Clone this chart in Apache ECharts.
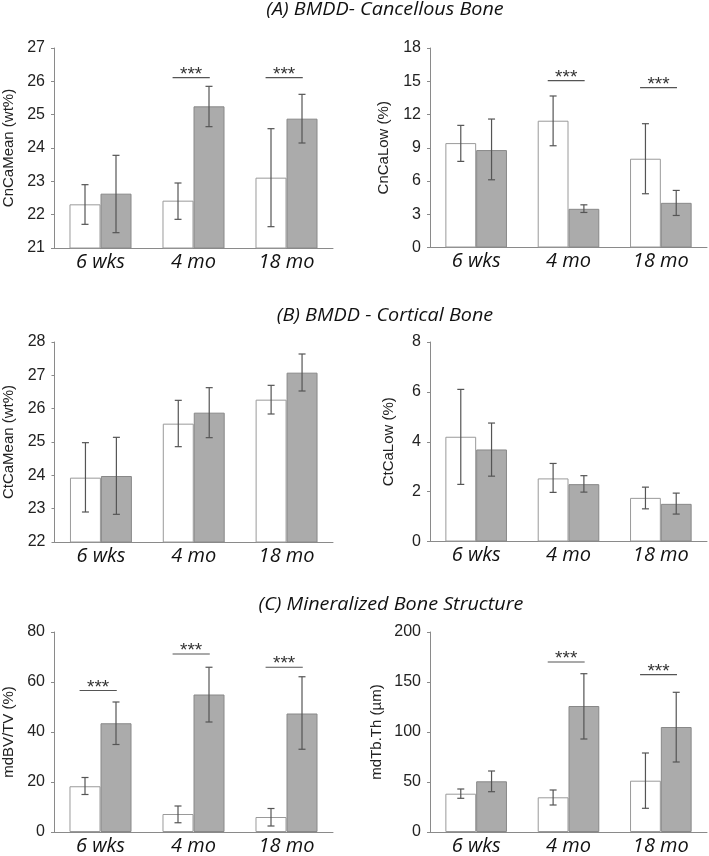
<!DOCTYPE html>
<html><head><meta charset="utf-8">
<script src="https://cdn.jsdelivr.net/npm/echarts@6/dist/echarts.min.js"></script>
<style>html,body{margin:0;padding:0;background:#fff}#c{width:709px;height:856px}</style>
</head><body><div id="c"></div><script>
const categories = ['6 wks', '4 mo', '18 mo'];

// (A) left: CnCaMean (wt%)
const cnCaMeanCtrl = [22.31, 22.42, 23.11];
const cnCaMeanCtrlLo = [21.71, 21.86, 21.64];
const cnCaMeanCtrlHi = [22.90, 22.95, 24.58];
const cnCaMeanTrt = [22.63, 25.25, 24.88];
const cnCaMeanTrtLo = [21.46, 24.64, 24.15];
const cnCaMeanTrtHi = [23.78, 25.85, 25.61];
const cnCaMeanSig = [null, 26.11, 26.11];

// (A) right: CnCaLow (%)
const cnCaLowCtrl = [9.42, 11.44, 8.01];
const cnCaLowCtrlLo = [7.77, 9.18, 4.85];
const cnCaLowCtrlHi = [11.02, 13.67, 11.17];
const cnCaLowTrt = [8.79, 3.49, 4.03];
const cnCaLowTrtLo = [6.11, 3.16, 2.89];
const cnCaLowTrtHi = [11.59, 3.85, 5.15];
const cnCaLowSig = [null, 15.05, 14.42];

// (B) left: CtCaMean (wt%)
const ctCaMeanCtrl = [23.93, 25.55, 26.27];
const ctCaMeanCtrlLo = [22.90, 24.86, 25.84];
const ctCaMeanCtrlHi = [24.98, 26.25, 26.70];
const ctCaMeanTrt = [23.98, 25.88, 27.08];
const ctCaMeanTrtLo = [22.83, 25.13, 26.53];
const ctCaMeanTrtHi = [25.14, 26.63, 27.64];
const ctCaMeanSig = [null, null, null];

// (B) right: CtCaLow (%)
const ctCaLowCtrl = [4.20, 2.53, 1.75];
const ctCaLowCtrlLo = [2.29, 1.97, 1.31];
const ctCaLowCtrlHi = [6.10, 3.13, 2.18];
const ctCaLowTrt = [3.69, 2.30, 1.51];
const ctCaLowTrtLo = [2.62, 1.98, 1.10];
const ctCaLowTrtHi = [4.75, 2.64, 1.94];
const ctCaLowSig = [null, null, null];

// (C) left: mdBV/TV (%)
const mdBVTVCtrl = [18.3, 7.2, 6.0];
const mdBVTVCtrlLo = [15.0, 3.7, 2.4];
const mdBVTVCtrlHi = [21.8, 10.4, 9.4];
const mdBVTVTrt = [43.5, 55.0, 47.4];
const mdBVTVTrtLo = [35.0, 44.0, 33.1];
const mdBVTVTrtHi = [52.0, 65.9, 62.1];
const mdBVTVSig = [56.6, 71.2, 65.9];

// (C) right: mdTb.Th (µm)
const mdTbThCtrl = [38.3, 34.7, 51.3];
const mdTbThCtrlLo = [33.7, 27.0, 23.7];
const mdTbThCtrlHi = [43.0, 42.0, 79.0];
const mdTbThTrt = [50.7, 126.0, 105.0];
const mdTbThTrtLo = [40.3, 93.0, 70.0];
const mdTbThTrtHi = [61.0, 158.3, 139.7];
const mdTbThSig = [null, 170, 157.3];

const panelTitles = ['(A) BMDD- Cancellous Bone', '(B) BMDD - Cortical Bone', '(C) Mineralized Bone Structure'];

const panels = [
  {name:'CnCaMean (wt%)', min:21, max:27, interval:1, ctrl:cnCaMeanCtrl, cLo:cnCaMeanCtrlLo, cHi:cnCaMeanCtrlHi, trt:cnCaMeanTrt, tLo:cnCaMeanTrtLo, tHi:cnCaMeanTrtHi, sig:cnCaMeanSig, grid:{left:53.5, top:48, width:279.5, height:200}, gap:38},
  {name:'CnCaLow (%)', min:0, max:18, interval:3, ctrl:cnCaLowCtrl, cLo:cnCaLowCtrlLo, cHi:cnCaLowCtrlHi, trt:cnCaLowTrt, tLo:cnCaLowTrtLo, tHi:cnCaLowTrtHi, sig:cnCaLowSig, grid:{left:430, top:48, width:277, height:199.5}, gap:39},
  {name:'CtCaMean (wt%)', min:22, max:28, interval:1, ctrl:ctCaMeanCtrl, cLo:ctCaMeanCtrlLo, cHi:ctCaMeanCtrlHi, trt:ctCaMeanTrt, tLo:ctCaMeanTrtLo, tHi:ctCaMeanTrtHi, sig:ctCaMeanSig, grid:{left:53.5, top:342, width:279.5, height:200}, gap:38.5},
  {name:'CtCaLow (%)', min:0, max:8, interval:2, ctrl:ctCaLowCtrl, cLo:ctCaLowCtrlLo, cHi:ctCaLowCtrlHi, trt:ctCaLowTrt, tLo:ctCaLowTrtLo, tHi:ctCaLowTrtHi, sig:ctCaLowSig, grid:{left:430, top:342, width:277, height:199.5}, gap:34},
  {name:'mdBV/TV (%)', min:0, max:80, interval:20, ctrl:mdBVTVCtrl, cLo:mdBVTVCtrlLo, cHi:mdBVTVCtrlHi, trt:mdBVTVTrt, tLo:mdBVTVTrtLo, tHi:mdBVTVTrtHi, sig:mdBVTVSig, grid:{left:53.5, top:632, width:279.5, height:200.5}, gap:38},
  {name:'mdTb.Th (µm)', min:0, max:200, interval:50, ctrl:mdTbThCtrl, cLo:mdTbThCtrlLo, cHi:mdTbThCtrlHi, trt:mdTbThTrt, tLo:mdTbThTrtLo, tHi:mdTbThTrtHi, sig:mdTbThSig, grid:{left:430, top:632, width:277, height:200}, gap:46}
];

const axisColor = '#8a8a8a';
const errColor = '#555';

function errRender(side) {
  return function (params, api) {
    const i = api.value(0);
    const lo = api.coord([i, api.value(1)]);
    const hi = api.coord([i, api.value(2)]);
    const band = api.size([1, 0])[0];
    const x = lo[0] + side * band / 6;
    const cap = 3.5;
    const st = {stroke: errColor, lineWidth: 1.2};
    return {type: 'group', children: [
      {type: 'line', shape: {x1: x, y1: hi[1], x2: x, y2: lo[1]}, style: st},
      {type: 'line', shape: {x1: x - cap, y1: hi[1], x2: x + cap, y2: hi[1]}, style: st},
      {type: 'line', shape: {x1: x - cap, y1: lo[1], x2: x + cap, y2: lo[1]}, style: st}
    ]};
  };
}

function sigRender(params, api) {
  const i = api.value(0);
  const p = api.coord([i, api.value(1)]);
  const band = api.size([1, 0])[0];
  const cx = p[0] - 0.025 * band;
  const hw = 0.2 * band;
  return {type: 'group', children: [
    {type: 'line', shape: {x1: cx - hw, y1: p[1], x2: cx + hw, y2: p[1]}, style: {stroke: '#555', lineWidth: 1.2}},
    {type: 'text', style: {text: '***', x: cx, y: p[1] - 3, textAlign: 'center', textVerticalAlign: 'middle', font: '19px "Liberation Sans", Arial', fill: '#333'}}
  ]};
}

const grid = [], xAxis = [], yAxis = [], series = [];
panels.forEach((pn, k) => {
  grid.push(Object.assign({containLabel: false}, pn.grid));
  xAxis.push({
    type: 'category', gridIndex: k, data: categories,
    axisLine: {show: true, lineStyle: {color: axisColor, width: 1}},
    axisTick: {show: false},
    axisLabel: {color: '#111', fontFamily: 'Open Sans', fontStyle: 'italic', fontSize: 20, margin: 4}
  });
  yAxis.push({
    type: 'value', gridIndex: k, min: pn.min, max: pn.max, interval: pn.interval,
    name: pn.name, nameLocation: 'middle', nameRotate: 90, nameGap: pn.gap,
    nameTextStyle: {color: '#222', fontFamily: 'Liberation Sans', fontSize: 15},
    axisLine: {show: true, lineStyle: {color: axisColor, width: 1}},
    axisTick: {show: true, length: 3, lineStyle: {color: axisColor}},
    axisLabel: {color: '#222', fontFamily: 'Liberation Sans', fontSize: 16, margin: 9},
    splitLine: {show: false}
  });
  series.push({
    type: 'bar', xAxisIndex: k, yAxisIndex: k, data: pn.ctrl,
    barGap: '0%', barCategoryGap: '33.3%',
    itemStyle: {color: '#ffffff', borderColor: '#9a9a9a', borderWidth: 1}
  });
  series.push({
    type: 'bar', xAxisIndex: k, yAxisIndex: k, data: pn.trt,
    barGap: '0%', barCategoryGap: '33.3%',
    itemStyle: {color: '#ababab', borderColor: '#888888', borderWidth: 1}
  });
  series.push({
    type: 'custom', xAxisIndex: k, yAxisIndex: k, renderItem: errRender(-1),
    encode: {x: 0, y: [1, 2]}, z: 5,
    data: categories.map((c, i) => [i, pn.cLo[i], pn.cHi[i]])
  });
  series.push({
    type: 'custom', xAxisIndex: k, yAxisIndex: k, renderItem: errRender(1),
    encode: {x: 0, y: [1, 2]}, z: 5,
    data: categories.map((c, i) => [i, pn.tLo[i], pn.tHi[i]])
  });
  const sigData = pn.sig.map((v, i) => v == null ? null : [i, v]).filter(Boolean);
  if (sigData.length) {
    series.push({
      type: 'custom', xAxisIndex: k, yAxisIndex: k, renderItem: sigRender,
      encode: {x: 0, y: 1}, z: 5, clip: false, data: sigData
    });
  }
});

const titleY = [10, 316, 605];
const titleX = [385, 385, 391];
const graphic = panelTitles.map((t, i) => ({
  type: 'text', x: titleX[i], y: titleY[i], scaleX: 1.1,
  style: {text: t, textAlign: 'center', textVerticalAlign: 'middle', font: 'italic 18px "Open Sans"', fill: '#111'}
}));

const chart = echarts.init(document.getElementById('c'), null, {renderer: 'canvas'});
chart.setOption({animation: false, backgroundColor: '#fff', grid, xAxis, yAxis, series, graphic});
</script></body></html>
